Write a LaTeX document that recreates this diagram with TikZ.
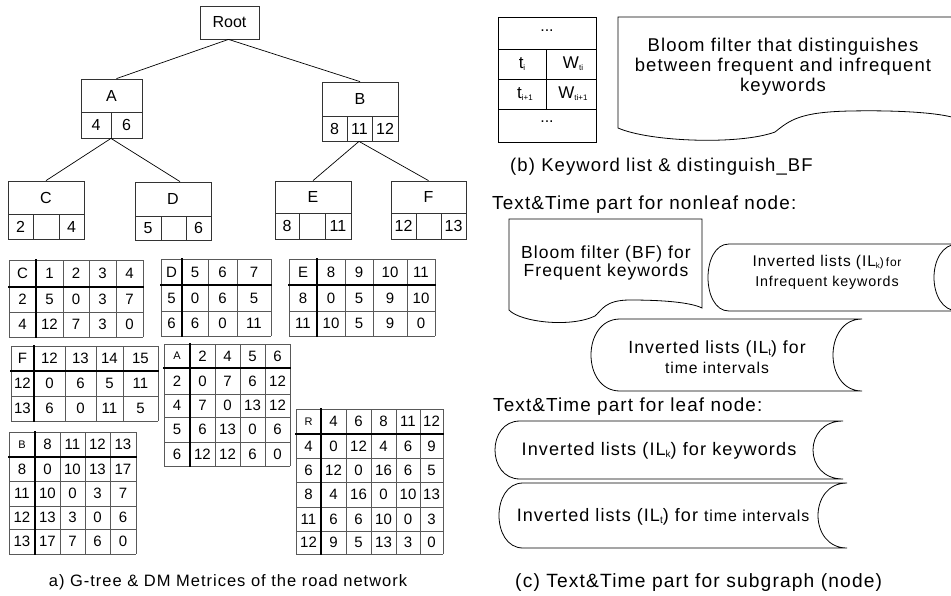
\documentclass[tikz,border=0pt]{standalone}
\usepackage{fontspec}
\setmainfont{Liberation Sans}
\newfontfamily\widefont[LetterSpace=6]{Liberation Sans}
\newcommand\fsz[2]{\fontsize{#1}{#2}\selectfont}
\newcommand\lowsub[2]{\raisebox{-2pt}{\fontsize{#1}{#1}\selectfont #2}}
\newcommand\smlab[1]{{\fsz{11}{12}#1}}

% distance matrix: #1 name, #2 column edges, #3 row edges, #4 entries row by row
\newcommand\dmtable[4]{%
  \def\dmxs{{#2}}\def\dmys{{#3}}%
  \foreach \xx in {#2} {\xdef\dmxlast{\xx}}%
  \foreach \yy in {#3} {\xdef\dmylast{\yy}}%
  \pgfmathsetmacro\dmxfirst{\dmxs[0]}%
  \pgfmathsetmacro\dmyfirst{\dmys[0]}%
  \pgfmathsetmacro\dmxsec{\dmxs[1]}%
  \pgfmathsetmacro\dmysec{\dmys[1]}%
  \foreach \xx in {#2} {\draw[gridline] (\xx,\dmyfirst) -- (\xx,\dmylast);}%
  \foreach \yy in {#3} {\draw[gridline] (\dmxfirst,\yy) -- (\dmxlast,\yy);}%
  \draw[gridthick] (\dmxsec,\dmyfirst) -- (\dmxsec,\dmylast);
  \draw[gridthick] (\dmxfirst,\dmysec) -- (\dmxlast,\dmysec);
  \foreach \rowlist [count=\i from 0] in {#4} {%
    \foreach \val [count=\j from 0] in \rowlist {%
      \pgfmathtruncatemacro\jn{\j+1}%
      \pgfmathtruncatemacro\inx{\i+1}%
      \pgfmathsetmacro\xa{\dmxs[\j]}%
      \pgfmathsetmacro\xb{\dmxs[\jn]}%
      \pgfmathsetmacro\ya{\dmys[\i]}%
      \pgfmathsetmacro\yb{\dmys[\inx]}%
      \pgfmathsetmacro\cx{(\xa+\xb)/2}%
      \pgfmathsetmacro\cy{(\ya+\yb)/2}%
      \node[cell] (#1-\i-\j) at (\cx,\cy) {\val};
    }%
  }%
}

% storage-like outline: leftmost x, left bulge, right x, right bulge, top, bottom
\newcommand\storage[6]{%
  \draw[outline] ({#1+#2},#5) -- (#3,#5)
    .. controls ({#3-4*#4/3},#5) and ({#3-4*#4/3},#6) .. (#3,#6)
    -- ({#1+#2},#6)
    .. controls ({#1+#2-4*#2/3},#6) and ({#1+#2-4*#2/3},#5) .. ({#1+#2},#5);}

\tikzset{
  box/.style={draw=black!80, line width=0.8pt, inner sep=0pt},
  boxline/.style={draw=black!80, line width=0.8pt},
  lbl/.style={inner sep=0pt, font=\fsz{16}{18}},
  cell/.style={inner sep=0pt, font=\fsz{15}{17}},
  gridline/.style={draw=black!65, line width=0.8pt},
  gridthick/.style={draw=black, line width=1.8pt, line cap=rect},
  edge/.style={draw=black, line width=0.7pt},
  outline/.style={draw=black, line width=0.8pt},
  txt/.style={inner sep=0pt, font=\widefont\fsz{18}{20}},
}

\begin{document}
\begin{tikzpicture}[x=1pt,y=-1pt]
\useasboundingbox (0,0) rectangle (951,595);
\fill[white] (0,0) rectangle (951,595);

% ---------- G-tree ----------
\node[box, lbl, minimum width=59pt, minimum height=33pt] (Root) at (229.5,22.5) {Root};

\node[box, minimum width=61pt, minimum height=59pt] (A) at (111.5,108.5) {};
\draw[boxline] (81,112) -- (142,112) (111,112) -- (111,138);
\node[lbl] (A-name) at (111.5,95.5) {A};
\node[lbl] (A-1) at (96,125) {4};
\node[lbl] (A-2) at (126.5,125) {6};

\node[box, minimum width=76pt, minimum height=59pt] (B) at (360,111.5) {};
\draw[boxline] (322,116) -- (398,116) (347,116) -- (347,141) (372,116) -- (372,141);
\node[lbl] (B-name) at (360,99) {B};
\node[lbl] (B-1) at (334.5,128.5) {8};
\node[lbl] (B-2) at (359.5,128.5) {11};
\node[lbl] (B-3) at (385,128.5) {12};

\node[box, minimum width=76pt, minimum height=58pt] (C) at (46,210) {};
\draw[boxline] (8,214) -- (84,214) (33,214) -- (33,239) (59,214) -- (59,239);
\node[lbl] (C-name) at (46,197.5) {C};
\node[lbl] (C-1) at (20.5,226.5) {2};
\node[lbl] (C-3) at (71.5,226.5) {4};

\node[box, minimum width=76pt, minimum height=58pt] (D) at (173,211) {};
\draw[boxline] (135,216) -- (211,216) (161,216) -- (161,240) (186,216) -- (186,240);
\node[lbl] (D-name) at (173,199) {D};
\node[lbl] (D-1) at (148,228) {5};
\node[lbl] (D-3) at (198.5,228) {6};

\node[box, minimum width=76pt, minimum height=58pt] (E) at (313,210) {};
\draw[boxline] (275,213) -- (351,213) (299,213) -- (299,239) (325,213) -- (325,239);
\node[lbl] (E-name) at (313,197) {E};
\node[lbl] (E-1) at (287,226) {8};
\node[lbl] (E-3) at (338,226) {11};

\node[box, minimum width=75pt, minimum height=58pt] (F) at (428.5,210) {};
\draw[boxline] (391,213) -- (466,213) (416,213) -- (416,239) (441,213) -- (441,239);
\node[lbl] (F-name) at (428.5,197) {F};
\node[lbl] (F-1) at (403.5,226) {12};
\node[lbl] (F-3) at (453.5,226) {13};

\draw[edge] ([xshift=-1pt]Root.south) -- ([xshift=5pt]A.north);
\draw[edge] ([xshift=-1pt]Root.south) -- (B.north);
\draw[edge] ([xshift=-0.5pt]A.south) -- (C.north);
\draw[edge] ([xshift=-0.5pt]A.south) -- ([xshift=7pt]D.north);
\draw[edge] ([xshift=-1pt]B.south) -- (E.north);
\draw[edge] ([xshift=-1pt]B.south) -- (F.north);

% ---------- distance matrices ----------
\dmtable{mC}{9,36,63,89,116,143}{260,287,312,337}
  {{C,1,2,3,4},{2,5,0,3,7},{4,12,7,3,0}}
\dmtable{mD}{161,182,208,237,271}{259,285,311,336}
  {{D,5,6,7},{5,0,6,5},{6,6,0,11}}
\dmtable{mE}{289,317,345,373,407,435}{259,285,311,336}
  {{E,8,9,10,11},{8,0,5,9,10},{11,10,5,9,0}}
\dmtable{mF}{11,34,65,96,123,158}{346,371,396,421}
  {{F,12,13,14,15},{12,0,6,5,11},{13,6,0,11,5}}
\dmtable{mA}{164,190,215,240,265,290}{344,368,394,417,442,466}
  {{\smlab{A},2,4,5,6},{2,0,7,6,12},{4,7,0,13,12},{5,6,13,0,6},{6,12,12,6,0}}
\dmtable{mB}{9,35,60,85,110,136}{432,457,481,506,529,554}
  {{\smlab{B},8,11,12,13},{8,0,10,13,17},{11,10,0,3,7},{12,13,3,0,6},{13,17,7,6,0}}
\dmtable{mR}{296,321,346,371,396,420,443}{409,434,458,482,507,531,554}
  {{\smlab{R},4,6,8,11,12},{4,0,12,4,6,9},{6,12,0,16,6,5},{8,4,16,0,10,13},{11,6,6,10,0,3},{12,9,5,13,3,0}}

\node[txt, font=\widefont\fsz{16.5}{18}] (capA) at (228,582) {a) G-tree \& DM Metrices of the road network};

% ---------- keyword list ----------
\draw[boxline, draw=black] (498,17) rectangle (596,142);
\draw[boxline, draw=black] (498,49) -- (596,49) (498,79) -- (596,79) (498,109) -- (596,109) (546,49) -- (546,109);
\node[lbl] (kl-top) at (547,31) {...};
\node[lbl, font=\fsz{17}{18}] (kl-t1) at (522,64) {t\lowsub{8}{i}};
\node[lbl, font=\fsz{17}{18}] (kl-w1) at (573,64) {W\lowsub{8}{ti}};
\node[lbl, font=\fsz{17}{18}] (kl-t2) at (525,94) {t\lowsub{8}{i+1}};
\node[lbl, font=\fsz{17}{18}] (kl-w2) at (573,94) {W\lowsub{8}{ti+1}};
\node[lbl] (kl-bot) at (547,122) {...};

% distinguishing Bloom filter
\draw[outline] (960,17) -- (618,17) -- (618,128)
  .. controls (650,142) and (740,145) .. (775,132)
  .. controls (790,120) and (800,112) .. (850,111)
  .. controls (900,110) and (940,113) .. (955,118) -- (960,118);
\node[txt, font=\widefont\fsz{18.5}{20}, align=center] (dbf) at (783,67)
  {Bloom filter that distinguishes\\between frequent and infrequent\\keywords};
\node[txt, font=\widefont\fsz{18.5}{20}, anchor=west] (capB) at (510,167) {(b) Keyword list \& distinguish\_BF};

% ---------- text & time parts ----------
\node[txt, font=\widefont\fsz{18.9}{20}, anchor=west] (nonleaf) at (492,205) {Text\&Time part for nonleaf node:};

\draw[outline] (509,310) -- (509,219) -- (702,219) -- (702,308)
  .. controls (690,302) and (660,300) .. (630,300)
  .. controls (605,300) and (602,310) .. (595,316)
  .. controls (570,328) and (520,322) .. (509,310);
\node[txt, font=\widefont\fsz{17.5}{18}, align=center] (bf) at (606,262.5) {Bloom filter (BF) for\\Frequent keywords};

\storage{708}{21}{958}{24}{244}{311}
\node[txt, align=center] (ilk) at (827,272)
  {{\fsz{15.5}{19}Inverted lists (IL\lowsub{8}{k}{\fsz{12}{19})\,for}}\\{\fsz{14.3}{19}Infrequent keywords}};

\storage{591}{29}{862}{29}{319}{391}
\node[txt, font=\widefont\fsz{17.6}{20}, align=center] (ilt) at (717,357)
  {Inverted lists (IL\lowsub{10}{t}) for\\{\fsz{15.7}{20}time intervals}};

\node[txt, font=\widefont\fsz{18.9}{20}, anchor=west] (leaf) at (493,407) {Text\&Time part for leaf node:};

\storage{495}{25}{843}{30}{421}{479}
\node[txt, font=\widefont\fsz{18.1}{20}] (lilk) at (659,451) {Inverted lists (IL\lowsub{10}{k}) for keywords};

\storage{499}{24}{847}{29}{483}{548}
\node[txt] (lilt) at (663,517) {Inverted lists (IL\lowsub{10}{t}) for {\fsz{15.9}{20}time intervals}};

\node[txt, font=\widefont\fsz{19.2}{20}, anchor=west] (capC) at (515,583) {(c) Text\&Time part for subgraph (node)};
\end{tikzpicture}
\end{document}
